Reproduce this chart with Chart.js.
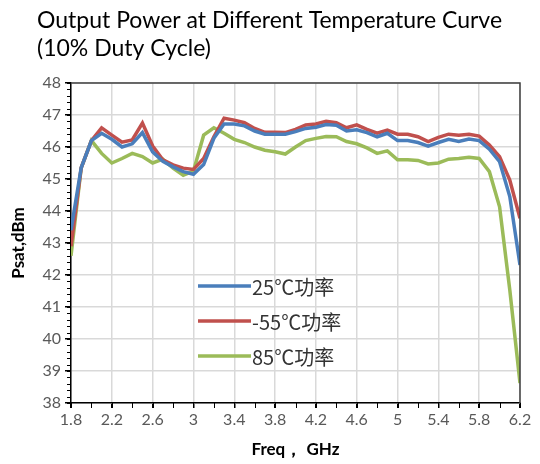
<!DOCTYPE html>
<html>
<head>
<meta charset="utf-8">
<script src="https://cdn.jsdelivr.net/npm/chart.js@4"></script>
<style>
  body { margin: 0; background: #fff; }
  #wrap { width: 540px; height: 464px; }
</style>
</head>
<body>
<div id="wrap"><canvas id="powerChart" width="540" height="464"></canvas></div>
<script>
var freq = [1.8, 1.9, 2.0, 2.1, 2.2, 2.3, 2.4, 2.5, 2.6, 2.7, 2.8, 2.9, 3.0, 3.1, 3.2, 3.3, 3.4, 3.5, 3.6, 3.7, 3.8, 3.9, 4.0,
            4.1, 4.2, 4.3, 4.4, 4.5, 4.6, 4.7, 4.8, 4.9, 5.0, 5.1, 5.2, 5.3, 5.4, 5.5, 5.6, 5.7, 5.8, 5.9, 6.0, 6.1, 6.2];
var p25 = [43.4, 45.35, 46.2, 46.43, 46.24, 46.0, 46.1, 46.45, 45.85, 45.55, 45.38, 45.23, 45.15, 45.45, 46.27, 46.72, 46.72,
           46.66, 46.5, 46.4, 46.4, 46.4, 46.48, 46.58, 46.62, 46.7, 46.68, 46.5, 46.54, 46.45, 46.32, 46.43, 46.2, 46.2,
           46.14, 46.03, 46.14, 46.24, 46.17, 46.25, 46.2, 45.93, 45.54, 44.45, 42.31];
var m55 = [42.9, 45.35, 46.2, 46.6, 46.37, 46.15, 46.22, 46.75, 46.03, 45.6, 45.44, 45.34, 45.3, 45.64, 46.32, 46.9, 46.84,
           46.76, 46.58, 46.46, 46.46, 46.45, 46.55, 46.69, 46.72, 46.8, 46.76, 46.6, 46.69, 46.55, 46.43, 46.53, 46.4, 46.4,
           46.32, 46.17, 46.3, 46.4, 46.37, 46.4, 46.34, 46.06, 45.7, 44.97, 43.77];
var p85 = [42.6, 45.35, 46.2, 45.8, 45.5, 45.64, 45.8, 45.7, 45.5, 45.62, 45.34, 45.12, 45.25, 46.37, 46.6, 46.43, 46.24,
           46.14, 46.0, 45.9, 45.85, 45.78, 46.0, 46.2, 46.27, 46.33, 46.32, 46.17, 46.1, 45.97, 45.8, 45.88, 45.6, 45.6,
           45.58, 45.47, 45.5, 45.62, 45.64, 45.68, 45.64, 45.23, 44.13, 41.53, 38.62];
var seriesNames = ['25\u2103\u529f\u7387', '-55\u2103\u529f\u7387', '85\u2103\u529f\u7387'];
var xTicks = [1.8, 2.2, 2.6, 3.0, 3.4, 3.8, 4.2, 4.6, 5.0, 5.4, 5.8, 6.2];
var xTickLabels = ['1.8', '2.2', '2.6', '3', '3.4', '3.8', '4.2', '4.6', '5', '5.4', '5.8', '6.2'];
var titleLines = ['Output Power at Different Temperature Curve', '(10% Duty Cycle)'];

function pts(ys) {
    return freq.map(function (f, i) { return { x: f, y: ys[i] }; });
}

// title, plot frame, minor ticks and legend drawn on the canvas
var extras = {
    id: 'extras',
    afterDraw: function (chart) {
        var ctx = chart.ctx, a = chart.chartArea;
        var xs = chart.scales.x, ys = chart.scales.y;
        ctx.save();
        // frame top / right
        ctx.strokeStyle = '#404040';
        ctx.lineWidth = 1.5;
        ctx.beginPath();
        ctx.moveTo(a.left, a.top);
        ctx.lineTo(a.right, a.top);
        ctx.lineTo(a.right, a.bottom);
        ctx.stroke();
        // minor ticks
        ctx.strokeStyle = '#000';
        ctx.lineWidth = 1;
        ctx.beginPath();
        for (var v = 380; v <= 480; v += 2) {
            var py = Math.round(ys.getPixelForValue(v / 10)) + 0.5;
            ctx.moveTo(a.left - 4, py);
            ctx.lineTo(a.left, py);
        }
        for (var u = 18; u <= 62; u += 2) {
            var px = Math.round(xs.getPixelForValue(u / 10)) + 0.5;
            ctx.moveTo(px, a.bottom);
            ctx.lineTo(px, a.bottom + 5);
        }
        ctx.stroke();
        // title
        ctx.fillStyle = '#000';
        ctx.font = '23px Lato';
        ctx.textBaseline = 'alphabetic';
        ctx.textAlign = 'left';
        ctx.fillText(titleLines[0], 37, 28);
        ctx.fillText(titleLines[1], 37, 56);
        // legend
        ctx.font = '20px "Noto Sans CJK SC"';
        ctx.textBaseline = 'middle';
        chart.data.datasets.forEach(function (ds, i) {
            var y = 286 + i * 35;
            ctx.strokeStyle = ds.borderColor;
            ctx.lineWidth = 3.5;
            ctx.beginPath();
            ctx.moveTo(198, y);
            ctx.lineTo(251, y);
            ctx.stroke();
            ctx.fillStyle = '#333';
            ctx.fillText(ds.label, 252, y + 1);
        });
        ctx.restore();
    }
};

new Chart(document.getElementById('powerChart').getContext('2d'), {
    type: 'line',
    data: {
        datasets: [
            { label: seriesNames[0], data: pts(p25), borderColor: '#4a7ebb' },
            { label: seriesNames[1], data: pts(m55), borderColor: '#c0504d' },
            { label: seriesNames[2], data: pts(p85), borderColor: '#9bbb59' }
        ]
    },
    options: {
        responsive: false,
        animation: false,
        layout: { padding: { top: 83, right: 20, left: 0, bottom: 0 } },
        elements: {
            line: { borderWidth: 3.5, tension: 0, fill: false },
            point: { radius: 0 }
        },
        plugins: { legend: { display: false }, tooltip: { enabled: false } },
        scales: {
            x: {
                type: 'linear',
                min: 1.8,
                max: 6.2,
                afterBuildTicks: function (s) { s.ticks = xTicks.map(function (v) { return { value: v }; }); },
                afterFit: function (s) { s.height = 61; },
                ticks: {
                    callback: function (v, i) { return xTickLabels[i]; },
                    color: '#595959',
                    font: { family: 'Lato', size: 16 },
                    padding: 2,
                    maxRotation: 0
                },
                grid: { color: '#d9d9d9', lineWidth: 1.5, tickColor: '#000', tickLength: 5 },
                border: { color: '#000', width: 1.5 },
                title: {
                    display: true,
                    text: 'Freq\uff0c GHz',
                    color: '#000',
                    font: { family: 'Lato', size: 17, weight: 'bold' },
                    padding: { top: 8 }
                }
            },
            y: {
                min: 38,
                max: 48,
                afterFit: function (s) { s.width = 71; },
                ticks: {
                    stepSize: 1,
                    color: '#595959',
                    font: { family: 'Lato', size: 16 },
                    padding: 4
                },
                grid: { color: '#d9d9d9', lineWidth: 1.5, tickColor: '#000', tickLength: 6 },
                border: { color: '#000', width: 1.5 },
                title: {
                    display: true,
                    text: 'Psat,dBm',
                    color: '#000',
                    font: { family: 'Lato', size: 17, weight: 'bold' },
                    padding: { top: 8, bottom: 0 }
                }
            }
        }
    },
    plugins: [extras]
});
</script>
</body>
</html>
